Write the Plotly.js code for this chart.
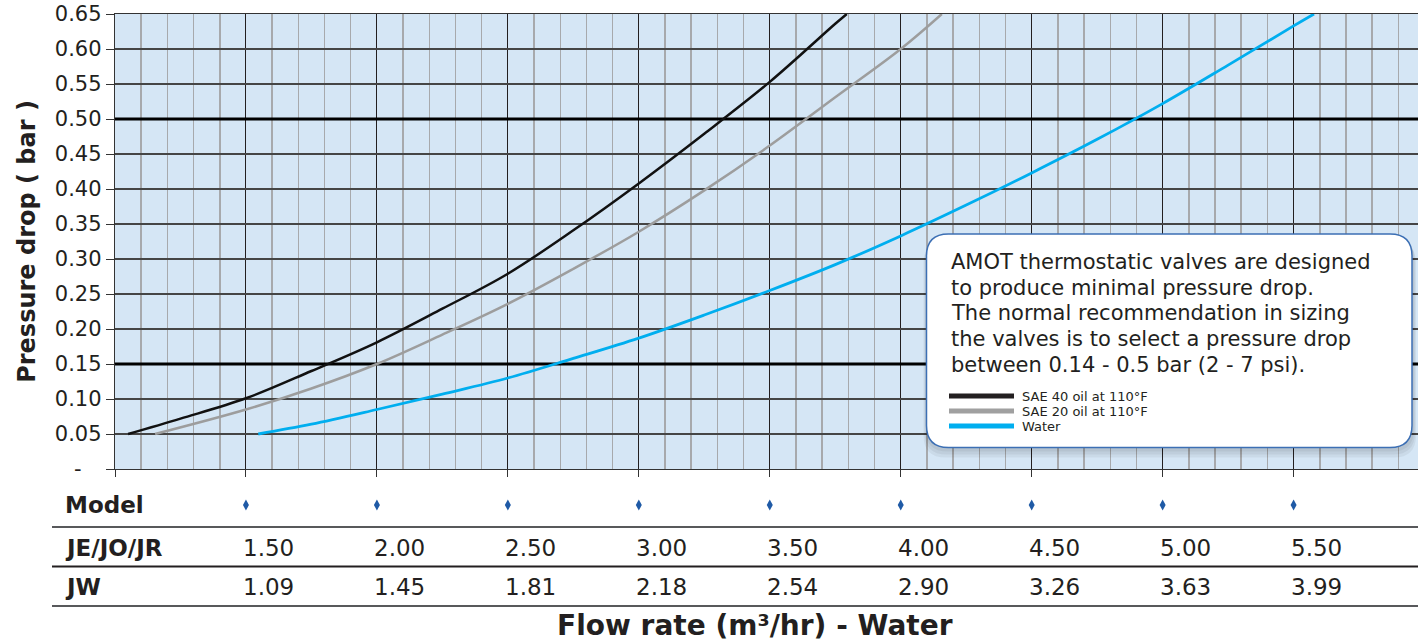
<!DOCTYPE html>
<html>
<head>
<meta charset="utf-8">
<script src="https://cdn.plot.ly/plotly-3.0.1.min.js"></script>
<style>
html,body{margin:0;padding:0;background:#ffffff;}
#chart{width:1418px;height:641px;}
</style>
</head>
<body>
<div id="chart"></div>
<script>
// ---------- data ----------
const sae40Flow = [1.05, 1.25, 1.5, 1.75, 2.0, 2.25, 2.5, 2.75, 3.0, 3.25, 3.5, 3.75, 3.794];
const sae40Drop = [0.05, 0.072, 0.101, 0.140, 0.181, 0.229, 0.279, 0.341, 0.408, 0.479, 0.553, 0.636, 0.65];

const sae20Flow = [1.153, 1.5, 1.75, 2.0, 2.25, 2.5, 2.75, 3.0, 3.25, 3.5, 3.75, 4.0, 4.157];
const sae20Drop = [0.05, 0.085, 0.115, 0.150, 0.192, 0.236, 0.286, 0.339, 0.398, 0.462, 0.531, 0.600, 0.65];

const waterFlow = [1.547, 1.75, 2.0, 2.25, 2.5, 2.75, 3.0, 3.25, 3.5, 3.75, 4.0, 4.25, 4.5, 4.75, 5.0, 5.25, 5.5, 5.578];
const waterDrop = [0.05, 0.064, 0.085, 0.107, 0.130, 0.158, 0.187, 0.220, 0.255, 0.292, 0.333, 0.377, 0.423, 0.471, 0.522, 0.577, 0.633, 0.65];

const seriesNames = ['SAE 40 oil at 110°F', 'SAE 20 oil at 110°F', 'Water'];
const recommendedDrop = [0.15, 0.50];

const pressureTicks = [0, 0.05, 0.10, 0.15, 0.20, 0.25, 0.30, 0.35, 0.40, 0.45, 0.50, 0.55, 0.60, 0.65];
const pressureTickText = ['-\u00a0\u00a0\u00a0', '0.05', '0.10', '0.15', '0.20', '0.25', '0.30', '0.35', '0.40', '0.45', '0.50', '0.55', '0.60', '0.65'];

const tableRowLabels = ['Model', 'JE/JO/JR', 'JW'];
const jeFlow = [1.50, 2.00, 2.50, 3.00, 3.50, 4.00, 4.50, 5.00, 5.50];
const jwFlow = [1.09, 1.45, 1.81, 2.18, 2.54, 2.90, 3.26, 3.63, 3.99];

const noteLines = [
  'AMOT thermostatic valves are designed',
  'to produce minimal pressure drop.',
  'The normal recommendation in sizing',
  'the valves is to select a pressure drop',
  'between 0.14 - 0.5 bar (2 - 7 psi).'
];
const xTitle = 'Flow rate (m³/hr) - Water';
const yTitle = 'Pressure drop ( bar )';

// ---------- layout helpers (pixel -> paper) ----------
const W = 1418, H = 641, ML = 115, MT = 14, MB = 172;
const PW = W - ML, PH = H - MT - MB;           // plot area 115..1418 x 14..469
const yRange = [0, 0.65];
const xRange = [1.0, 5.975];
const px = x => (x - ML) / PW;                 // pixel x -> paper x
const py = y => (H - MB - y) / PH;             // pixel y -> paper y (may be negative)
const FONT = '"DejaVu Sans", Verdana, sans-serif';
const INK = '#231f20';
const colors = ['#111111', '#9d9d9d', '#00aeef'];

function rrPath(l, t, r, b, rad) {
  const X = px, Y = py;
  return `M ${X(l+rad)},${Y(t)} L ${X(r-rad)},${Y(t)} Q ${X(r)},${Y(t)} ${X(r)},${Y(t+rad)} ` +
         `L ${X(r)},${Y(b-rad)} Q ${X(r)},${Y(b)} ${X(r-rad)},${Y(b)} ` +
         `L ${X(l+rad)},${Y(b)} Q ${X(l)},${Y(b)} ${X(l)},${Y(b-rad)} ` +
         `L ${X(l)},${Y(t+rad)} Q ${X(l)},${Y(t)} ${X(l+rad)},${Y(t)} Z`;
}

// ---------- traces ----------
const traces = [];
recommendedDrop.forEach(v => traces.push({
  type: 'scatter', mode: 'lines', x: xRange, y: [v, v],
  line: {color: '#000000', width: 3}, hoverinfo: 'skip', showlegend: false
}));
const curveX = [sae40Flow, sae20Flow, waterFlow];
const curveY = [sae40Drop, sae20Drop, waterDrop];
curveX.forEach((xs, i) => traces.push({
  type: 'scatter', mode: 'lines', name: seriesNames[i],
  x: xs, y: curveY[i],
  line: {color: colors[i], width: i === 2 ? 2.8 : 2.5, shape: 'spline', smoothing: 1},
  hoverinfo: 'x+y+name', showlegend: false
}));

// ---------- shapes ----------
const shapes = [];
// model markers (diamonds) in the table row, anchored on the flow axis
jeFlow.forEach(v => shapes.push({
  type: 'path', xref: 'x', yref: 'paper', xsizemode: 'pixel', ysizemode: 'pixel',
  xanchor: v, yanchor: py(505), path: 'M 0 5.5 L 3 0 L 0 -5.5 L -3 0 Z',
  fillcolor: '#1f5aa6', line: {width: 0}, layer: 'above'}));
// table rules
[[527, '#58595b'], [566.5, INK], [606, '#58595b']].forEach(([y, c]) => shapes.push({
  type: 'line', xref: 'paper', yref: 'paper', x0: px(52), x1: 1, y0: py(y), y1: py(y),
  line: {color: c, width: 2}, layer: 'above'}));

// note box with soft shadow
const box = {l: 926.5, t: 234, r: 1412, b: 447.5, rad: 22};
[[1, 3, 2, 4], [2, 5, 3, 7], [3, 7, 4, 10]].forEach(([dl, dt, dr, db]) =>
  shapes.push({type: 'path', xref: 'paper', yref: 'paper',
    path: rrPath(box.l - dl, box.t + dt, box.r + dr, box.b + db, box.rad),
    fillcolor: 'rgba(0,0,0,0.05)', line: {width: 0}, layer: 'above'}));
shapes.push({type: 'path', xref: 'paper', yref: 'paper',
  path: rrPath(box.l, box.t, box.r, box.b, box.rad),
  fillcolor: '#ffffff', line: {color: '#3c6fb4', width: 1.5}, layer: 'above'});

// legend samples
const legendColors = ['#231f20', '#a0a0a0', '#00aeef'];
const legendTop = 396, legendStep = 15;
seriesNames.forEach((n, i) => shapes.push({type: 'line', xref: 'paper', yref: 'paper',
  x0: px(949), x1: px(1014), y0: py(legendTop + i * legendStep), y1: py(legendTop + i * legendStep),
  line: {color: legendColors[i], width: 5}, layer: 'above'}));

// ---------- annotations ----------
const ann = [];
noteLines.forEach((t, i) => ann.push({text: t, xref: 'paper', yref: 'paper',
  x: px(949), y: py(262 + i * 25.7), xanchor: 'left', yanchor: 'middle', showarrow: false,
  font: {family: FONT, size: 21, color: INK}}));
seriesNames.forEach((t, i) => ann.push({text: t, xref: 'paper', yref: 'paper',
  x: px(1021), y: py(legendTop + i * legendStep), xanchor: 'left', yanchor: 'middle', showarrow: false,
  borderpad: 0, font: {family: FONT, size: 13, color: INK}}));
const rowY = [505, 548, 587];
tableRowLabels.forEach((t, i) => ann.push({text: t, xref: 'paper', yref: 'paper',
  x: px(63), y: py(rowY[i]), xanchor: 'left', yanchor: 'middle', showarrow: false,
  font: {family: FONT, size: 23, color: INK, weight: 'bold'}}));
[jeFlow, jwFlow].forEach((vals, r) => vals.forEach((v, i) => ann.push({
  text: v.toFixed(2), xref: 'x', yref: 'paper', x: jeFlow[i], y: py(rowY[r + 1]),
  xanchor: 'left', yanchor: 'middle', xshift: -5, showarrow: false,
  font: {family: FONT, size: 23, color: INK}})));
ann.push({text: xTitle, xref: 'paper', yref: 'paper', x: px(755), y: py(625),
  xanchor: 'center', yanchor: 'middle', showarrow: false,
  font: {family: FONT, size: 28, color: INK, weight: 'bold'}});

// ---------- layout ----------
const layout = {
  width: W, height: H,
  margin: {l: ML, r: 0, t: MT, b: MB, pad: 0},
  paper_bgcolor: '#ffffff', plot_bgcolor: '#d5e6f5',
  font: {family: FONT, color: INK},
  showlegend: false,
  xaxis: {
    range: xRange, tick0: 1, dtick: 0.5,
    showgrid: true, gridcolor: '#231f20', gridwidth: 1,
    minor: {dtick: 0.1, tick0: 1, showgrid: true, gridcolor: '#a7a9ac', gridwidth: 1.5, ticks: ''},
    ticks: 'outside', ticklen: 7, tickcolor: '#333333', tickwidth: 1,
    showticklabels: false, zeroline: false,
    showline: true, linecolor: '#333333', linewidth: 1, mirror: true
  },
  yaxis: {
    range: yRange,
    tickmode: 'array', tickvals: pressureTicks, ticktext: pressureTickText,
    tickfont: {family: FONT, size: 21, color: INK},
    showgrid: true, gridcolor: '#454545', gridwidth: 1.2, zeroline: false,
    ticks: 'outside', ticklen: 8, tickcolor: '#333333', tickwidth: 1,
    showline: true, linecolor: '#333333', linewidth: 1.2,
    title: {text: yTitle, font: {family: FONT, size: 24, color: INK, weight: 'bold'}, standoff: 12}
  },
  shapes: shapes,
  annotations: ann
};

Plotly.newPlot('chart', traces, layout, {displayModeBar: false, staticPlot: true});
</script>
</body>
</html>
